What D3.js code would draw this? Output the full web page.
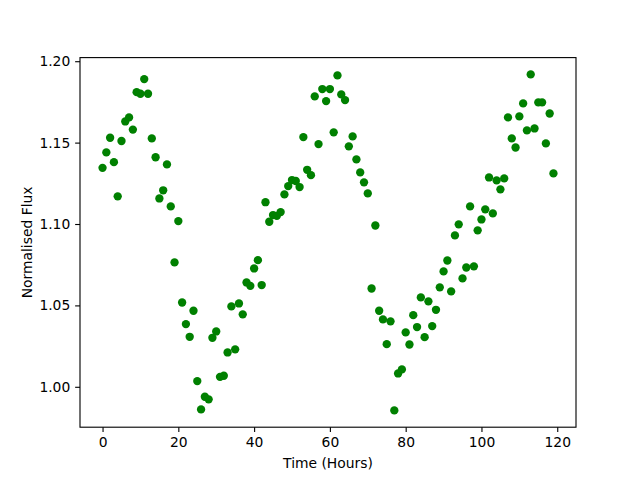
<!DOCTYPE html>
<html>
<head>
<meta charset="utf-8">
<script src="https://cdn.jsdelivr.net/npm/d3@7"></script>
<style>
  html, body { margin: 0; padding: 0; background: #fff; }
  svg text { font-family: "DejaVu Sans", sans-serif; }
</style>
</head>
<body>
<svg id="chart" width="640" height="480"></svg>
<script>
// Time in hours
const hours = d3.range(0, 120);
// Normalised flux values
const flux = [
  1.1345, 1.1440, 1.1530, 1.1380, 1.1170, 1.1510, 1.1630, 1.1655, 1.1580, 1.1810,
  1.1800, 1.1890, 1.1800, 1.1526, 1.1410, 1.1157, 1.1207, 1.1366, 1.1108, 1.0764,
  1.1018, 1.0518, 1.0385, 1.0307, 1.0467, 1.0035, 0.9861, 0.9939, 0.9923, 1.0301,
  1.0340, 1.0061, 1.0068, 1.0211, 1.0494, 1.0230, 1.0512, 1.0445, 1.0641, 1.0620,
  1.0727, 1.0778, 1.0625, 1.1134, 1.1014, 1.1055, 1.1050, 1.1073, 1.1182, 1.1233,
  1.1270, 1.1264, 1.1227, 1.1534, 1.1333, 1.1300, 1.1784, 1.1491, 1.1829, 1.1755,
  1.1829, 1.1563, 1.1913, 1.1796, 1.1761, 1.1477, 1.1538, 1.1397, 1.1317, 1.1256,
  1.1188, 1.0604, 1.0991, 1.0467, 1.0414, 1.0262, 1.0402, 0.9855, 1.0082, 1.0107,
  1.0334, 1.0260, 1.0440, 1.0367, 1.0549, 1.0305, 1.0525, 1.0373, 1.0473, 1.0611,
  1.0709, 1.0776, 1.0586, 1.0930, 1.0998, 1.0666, 1.0733, 1.1108, 1.0740, 1.0961,
  1.1028, 1.1090, 1.1286, 1.1065, 1.1268, 1.1213, 1.1280, 1.1655, 1.1526, 1.1470,
  1.1661, 1.1741, 1.1575, 1.1919, 1.1587, 1.1747, 1.1747, 1.1495, 1.1679, 1.1311
];
const xTicks = [0, 20, 40, 60, 80, 100, 120];
const yTicks = [1.00, 1.05, 1.10, 1.15, 1.20];
const xLabel = "Time (Hours)";
const yLabel = "Normalised Flux";

(function () {
  const W = 640, H = 480;
  const pL = 80, pR = 576, pT = 57.6, pB = 427.2;
  const pt = 100 / 72;

  function padded(ext) {
    const m = (ext[1] - ext[0]) * 0.05;
    return [ext[0] - m, ext[1] + m];
  }

  const x = d3.scaleLinear().domain(padded(d3.extent(hours))).range([pL, pR]);
  const y = d3.scaleLinear().domain(padded(d3.extent(flux))).range([pB, pT]);

  const svg = d3.select("#chart");
  const data = hours.map((h, i) => ({ h, f: flux[i] }));

  svg.append("g")
    .selectAll("circle")
    .data(data)
    .enter()
    .append("circle")
    .attr("cx", d => x(d.h))
    .attr("cy", d => y(d.f))
    .attr("r", 3 * pt)
    .attr("fill", "#008000");

  const tickLen = 3.5 * pt;
  const tickPad = 3.5 * pt;
  const fontSize = 10 * pt;

  const xAxis = svg.append("g")
    .attr("transform", `translate(0,${pB})`)
    .call(d3.axisBottom(x).tickValues(xTicks).tickFormat(d3.format("d"))
      .tickSize(tickLen).tickPadding(tickPad).tickSizeOuter(0));

  const yAxis = svg.append("g")
    .attr("transform", `translate(${pL},0)`)
    .call(d3.axisLeft(y).tickValues(yTicks).tickFormat(d3.format(".2f"))
      .tickSize(tickLen).tickPadding(tickPad).tickSizeOuter(0));

  [xAxis, yAxis].forEach(g => {
    g.select(".domain").remove();
    g.selectAll(".tick line").attr("stroke", "#000").attr("stroke-width", 0.8 * pt);
    g.selectAll(".tick text")
      .attr("fill", "#000")
      .style("font-family", "'DejaVu Sans', sans-serif")
      .style("font-size", fontSize + "px");
  });

  svg.append("rect")
    .attr("x", pL).attr("y", pT)
    .attr("width", pR - pL).attr("height", pB - pT)
    .attr("fill", "none")
    .attr("stroke", "#000")
    .attr("stroke-width", 0.8 * pt);

  svg.append("text")
    .attr("x", (pL + pR) / 2)
    .attr("y", 468)
    .attr("text-anchor", "middle")
    .style("font-size", fontSize + "px")
    .attr("fill", "#000")
    .text(xLabel);

  svg.append("text")
    .attr("transform", `translate(32,${(pT + pB) / 2}) rotate(-90)`)
    .attr("text-anchor", "middle")
    .style("font-size", fontSize + "px")
    .attr("fill", "#000")
    .text(yLabel);
})();
</script>
</body>
</html>
